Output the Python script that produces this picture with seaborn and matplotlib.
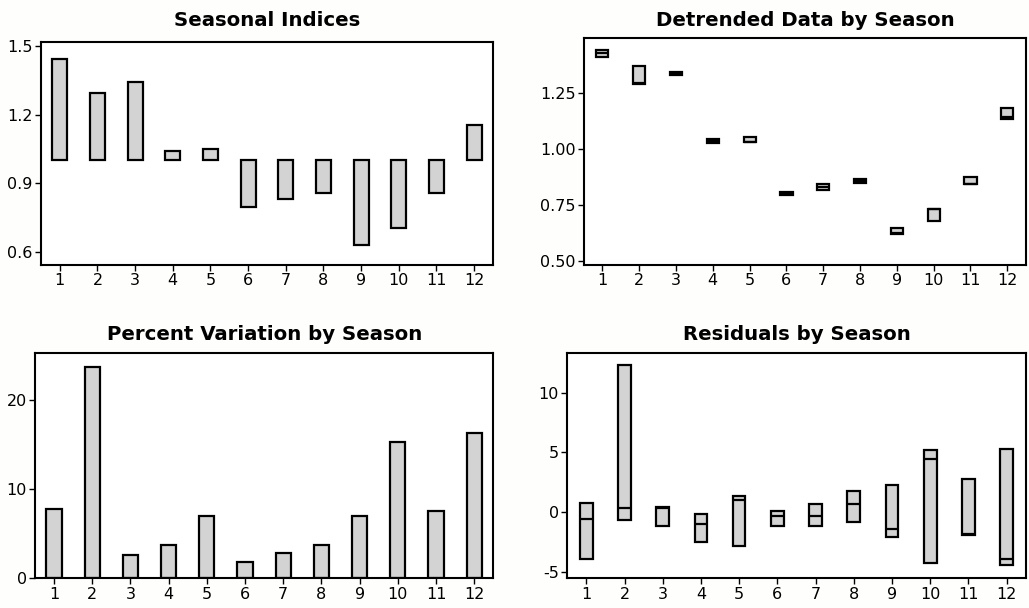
import numpy as np
import matplotlib
matplotlib.use("Agg")
import matplotlib.pyplot as plt
from matplotlib.ticker import FormatStrFormatter
import seaborn as sns

seasons = list(range(1, 13))

# Seasonal indices (bars hang from 1.0)
seasonal_idx = [1.442, 1.295, 1.343, 1.043, 1.051, 0.798, 0.830, 0.858, 0.629, 0.703, 0.858, 1.156]

# Detrended data by season: low / median / high of each box
detr_low = [1.410, 1.289, 1.327, 1.025, 1.030, 0.794, 0.817, 0.849, 0.621, 0.677, 0.842, 1.133]
detr_med = [1.425, 1.292, 1.335, 1.033, 1.032, 0.800, 0.830, 0.858, 0.625, 0.730, 0.845, 1.140]
detr_high = [1.440, 1.369, 1.343, 1.042, 1.054, 0.809, 0.842, 0.866, 0.649, 0.733, 0.873, 1.183]

# Percent variation by season
pct_var = [7.8, 23.8, 2.6, 3.7, 7.0, 1.8, 2.8, 3.7, 7.0, 15.3, 7.6, 16.3]

# Residuals by season: low / median / high of each box
resid_low = [-3.97, -0.70, -1.20, -2.55, -2.88, -1.17, -1.17, -0.84, -2.10, -4.25, -1.96, -4.41]
resid_med = [-0.56, 0.36, 0.36, -0.98, 0.97, -0.34, -0.37, 0.70, -1.46, 4.41, -1.84, -3.94]
resid_high = [0.72, 12.3, 0.39, -0.20, 1.34, 0.08, 0.70, 1.76, 2.23, 5.22, 2.73, 5.30]

FILL = "#d3d3d3"
BG = "#fefefc"

sns.set_style("ticks")
plt.rcParams["font.family"] = ["DejaVu Sans"]
plt.rcParams["axes.unicode_minus"] = False
plt.rcParams["text.color"] = "black"
plt.rcParams["axes.titlecolor"] = "black"

fig = plt.figure(figsize=(10.29, 6.08), dpi=100, facecolor=BG)
ax1 = fig.add_axes([0.0398, 0.5641, 0.4393, 0.3668])
ax2 = fig.add_axes([0.5675, 0.5641, 0.4293, 0.3738])
ax3 = fig.add_axes([0.0340, 0.0489, 0.4454, 0.3701])
ax4 = fig.add_axes([0.5513, 0.0489, 0.4455, 0.3701])


def style_axes(ax, title, pad):
    ax.set_facecolor("white")
    for sp in ax.spines.values():
        sp.set_visible(True)
        sp.set_color("black")
        sp.set_linewidth(1.5)
    ax.tick_params(direction="out", length=4, width=1, labelsize=11.5,
                   colors="black", pad=2)
    ax.set_xticks(seasons)
    ax.set_xticklabels([str(s) for s in seasons])
    ax.set_xlim(0.5, 12.5)
    ax.set_xlabel("")
    ax.set_ylabel("")
    ax.set_title(title, fontsize=14.2, fontweight="bold", pad=pad, color="black")


def draw_boxes(ax, low, med, high):
    stats = [dict(q1=l, med=m, q3=h, whislo=l, whishi=h, fliers=[])
             for l, m, h in zip(low, med, high)]
    ax.bxp(stats, positions=seasons, widths=0.33, patch_artist=True,
           showcaps=False, showfliers=False, manage_ticks=False,
           boxprops=dict(facecolor=FILL, edgecolor="black", linewidth=1.6),
           medianprops=dict(color="black", linewidth=1.6),
           whiskerprops=dict(linewidth=0))


# 1. Seasonal indices
sns.barplot(x=seasons, y=np.array(seasonal_idx) - 1, bottom=1, native_scale=True,
            width=0.4, color=FILL, saturation=1, edgecolor="black", linewidth=1.6,
            errorbar=None, ax=ax1)
style_axes(ax1, "Seasonal Indices", 11.5)
ax1.set_ylim(0.542, 1.518)
ax1.set_yticks([0.6, 0.9, 1.2, 1.5])
ax1.yaxis.set_major_formatter(FormatStrFormatter("%.1f"))

# 2. Detrended data by season
draw_boxes(ax2, detr_low, detr_med, detr_high)
style_axes(ax2, "Detrended Data by Season", 8.5)
ax2.set_ylim(0.482, 1.495)
ax2.set_yticks([0.5, 0.75, 1.0, 1.25])
ax2.yaxis.set_major_formatter(FormatStrFormatter("%.2f"))

# 3. Percent variation by season
sns.barplot(x=seasons, y=pct_var, native_scale=True, width=0.4, color=FILL,
            saturation=1, edgecolor="black", linewidth=1.6, errorbar=None, ax=ax3)
style_axes(ax3, "Percent Variation by Season", 9.6)
ax3.set_ylim(0, 25.3)
ax3.set_yticks([0, 10, 20])

# 4. Residuals by season
draw_boxes(ax4, resid_low, resid_med, resid_high)
style_axes(ax4, "Residuals by Season", 9.6)
ax4.set_ylim(-5.55, 13.3)
ax4.set_yticks([-5, 0, 5, 10])

fig.savefig("out.png", dpi=100, facecolor=BG)
